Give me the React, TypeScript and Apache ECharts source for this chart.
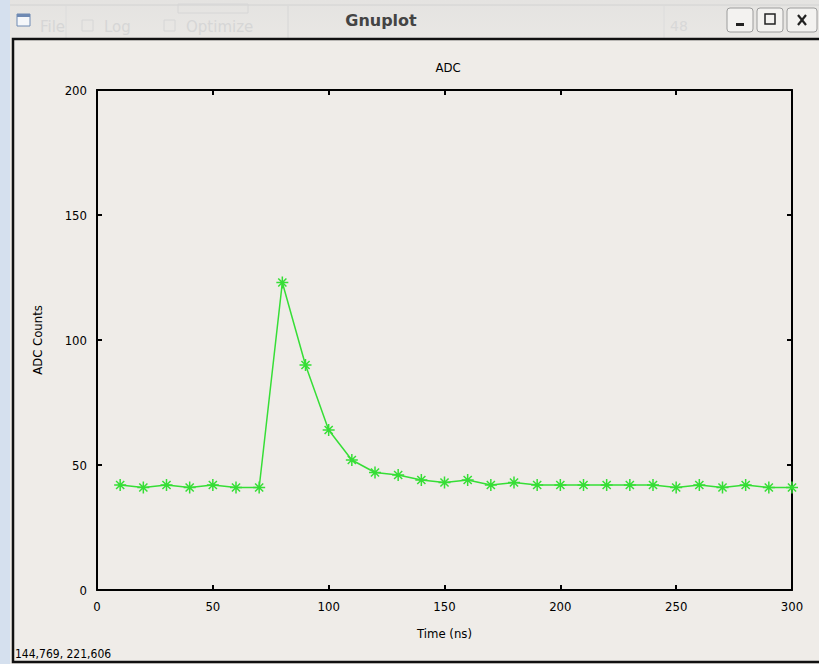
import React, { useEffect, useRef } from "react";
import * as echarts from "echarts";

// Sample times (ns) and ADC counts of the recorded pulse
const timeNs = [10, 20, 30, 40, 50, 60, 70, 80, 90, 100, 110, 120, 130, 140, 150, 160, 170, 180, 190, 200, 210, 220, 230, 240, 250, 260, 270, 280, 290, 300];
const adcCounts = [42, 41, 42, 41, 42, 41, 41, 123, 90, 64, 52, 47, 46, 44, 43, 44, 42, 43, 42, 42, 42, 42, 42, 42, 41, 42, 41, 42, 41, 41];

const chartTitle = "ADC";
const xName = "Time (ns)";
const yName = "ADC Counts";
const windowTitle = "Gnuplot";
const cursorReadout = "144,769, 221,606";

const plotFont = "'DejaVu Sans Condensed', 'DejaVu Sans', sans-serif";
const GREEN = "#36de36";
const STAR = "path://M5,0L5,10M0,5L10,5M1.6,1.6L8.4,8.4M8.4,1.6L1.6,8.4";

export default function App() {
  const ref = useRef<HTMLDivElement>(null);

  useEffect(() => {
    if (!ref.current) return;
    const chart = echarts.init(ref.current, null, { renderer: "svg" });

    const axisLine = () => ({ show: true, onZero: false, lineStyle: { color: "#000", width: 2 } });
    const ticks = () => ({ show: true, inside: true, length: 5, lineStyle: { color: "#000", width: 2 } });
    const label = () => ({ color: "#000", fontFamily: plotFont, fontSize: 13 });

    chart.setOption({
      animation: false,
      backgroundColor: "#efece8",
      title: {
        text: chartTitle,
        left: 443,
        top: 56,
        textAlign: "center",
        textStyle: { color: "#000", fontFamily: plotFont, fontSize: 13, fontWeight: "normal" },
      },
      grid: { left: 97, right: 27, top: 90, bottom: 74 },
      xAxis: [
        {
          type: "value",
          min: 0,
          max: 300,
          interval: 50,
          name: xName,
          nameLocation: "middle",
          nameGap: 37,
          nameTextStyle: label(),
          axisLine: axisLine(),
          axisTick: ticks(),
          axisLabel: { ...label(), margin: 10 },
          splitLine: { show: false },
        },
        {
          type: "value",
          position: "top",
          min: 0,
          max: 300,
          interval: 50,
          axisLine: axisLine(),
          axisTick: ticks(),
          axisLabel: { show: false },
          splitLine: { show: false },
        },
      ],
      yAxis: [
        {
          type: "value",
          min: 0,
          max: 200,
          interval: 50,
          name: yName,
          nameLocation: "middle",
          nameGap: 53,
          nameRotate: 90,
          nameTextStyle: label(),
          axisLine: axisLine(),
          axisTick: ticks(),
          axisLabel: { ...label(), margin: 10 },
          splitLine: { show: false },
        },
        {
          type: "value",
          position: "right",
          min: 0,
          max: 200,
          interval: 50,
          axisLine: axisLine(),
          axisTick: ticks(),
          axisLabel: { show: false },
          splitLine: { show: false },
        },
      ],
      series: [
        {
          type: "line",
          data: timeNs.map((t, i) => [t, adcCounts[i]]),
          symbol: STAR,
          symbolSize: 12,
          showAllSymbol: true,
          lineStyle: { color: GREEN, width: 1.5 },
          itemStyle: { color: "transparent", borderColor: GREEN, borderWidth: 1.5 },
          emphasis: { disabled: true },
          z: 5,
        },
      ],
      graphic: [
        // desktop strip on the left
        { type: "rect", z: -5, shape: { x: 0, y: 0, width: 10, height: 664 }, style: { fill: "#d5e0ee" } },
        // title bar
        {
          type: "rect",
          z: -5,
          shape: { x: 10, y: 0, width: 809, height: 38 },
          style: {
            fill: new echarts.graphic.LinearGradient(0, 0, 0, 1, [
              { offset: 0, color: "#e4e3e1" },
              { offset: 1, color: "#e9e7e4" },
            ]),
          },
        },
        { type: "line", z: -4, shape: { x1: 10, y1: 5, x2: 819, y2: 5 }, style: { stroke: "#d2d2d2", lineWidth: 1 } },
        // faint controls of the window behind
        { type: "text", z: -4, x: 40, y: 27, style: { text: "File", fill: "#d6d6d6", fontSize: 15, fontFamily: "DejaVu Sans", textVerticalAlign: "middle" } },
        { type: "rect", z: -4, shape: { x: 82, y: 20, width: 11, height: 11 }, style: { fill: "none", stroke: "#d6d6d6", lineWidth: 1 } },
        { type: "text", z: -4, x: 104, y: 27, style: { text: "Log", fill: "#d6d6d6", fontSize: 15, fontFamily: "DejaVu Sans", textVerticalAlign: "middle" } },
        { type: "rect", z: -4, shape: { x: 164, y: 20, width: 11, height: 11 }, style: { fill: "none", stroke: "#d6d6d6", lineWidth: 1 } },
        { type: "text", z: -4, x: 186, y: 27, style: { text: "Optimize", fill: "#d6d6d6", fontSize: 15, fontFamily: "DejaVu Sans", textVerticalAlign: "middle" } },
        { type: "rect", z: -4, shape: { x: 178, y: 4, width: 70, height: 9 }, style: { fill: "none", stroke: "#d6d6d6", lineWidth: 1 } },
        { type: "line", z: -4, shape: { x1: 288, y1: 6, x2: 288, y2: 38 }, style: { stroke: "#d6d6d6", lineWidth: 1 } },
        { type: "line", z: -4, shape: { x1: 66, y1: 6, x2: 66, y2: 38 }, style: { stroke: "#dcdcdc", lineWidth: 1 } },
        { type: "line", z: -4, shape: { x1: 664, y1: 6, x2: 664, y2: 38 }, style: { stroke: "#dcdcdc", lineWidth: 1 } },
        { type: "text", z: -4, x: 670, y: 26, style: { text: "48", fill: "#d8d8d8", fontSize: 14, fontFamily: "DejaVu Sans", textVerticalAlign: "middle" } },
        // window icon
        { type: "rect", z: -3, shape: { x: 17, y: 14, width: 13, height: 12 }, style: { fill: "#f5f7fa", stroke: "#6f8ab3", lineWidth: 1 } },
        { type: "rect", z: -3, shape: { x: 17, y: 14, width: 13, height: 3 }, style: { fill: "#6f8ab3" } },
        // window title
        {
          type: "text",
          z: -3,
          x: 381,
          y: 20,
          style: { text: windowTitle, fill: "#444", fontSize: 16, fontWeight: "bold", fontFamily: "DejaVu Sans", textAlign: "center", textVerticalAlign: "middle" },
        },
        // window buttons
        { type: "rect", z: -3, shape: { x: 727, y: 8, width: 26, height: 24, r: 3 }, style: { fill: "#f3f2f0", stroke: "#9c9c9c", lineWidth: 1 } },
        { type: "rect", z: -3, shape: { x: 736, y: 23, width: 8, height: 3 }, style: { fill: "#222" } },
        { type: "rect", z: -3, shape: { x: 757, y: 8, width: 26, height: 24, r: 3 }, style: { fill: "#f3f2f0", stroke: "#9c9c9c", lineWidth: 1 } },
        { type: "rect", z: -3, shape: { x: 765, y: 14, width: 10, height: 10 }, style: { fill: "none", stroke: "#222", lineWidth: 1.5 } },
        { type: "rect", z: -3, shape: { x: 787, y: 8, width: 30, height: 24, r: 3 }, style: { fill: "#f3f2f0", stroke: "#9c9c9c", lineWidth: 1 } },
        { type: "line", z: -3, shape: { x1: 798, y1: 15, x2: 806, y2: 25 }, style: { stroke: "#222", lineWidth: 2.2 } },
        { type: "line", z: -3, shape: { x1: 806, y1: 15, x2: 798, y2: 25 }, style: { stroke: "#222", lineWidth: 2.2 } },
        // canvas frame
        { type: "rect", z: -2, shape: { x: 13, y: 39, width: 820, height: 623 }, style: { fill: "none", stroke: "#111", lineWidth: 2.5 } },
        // mouse position readout
        {
          type: "text",
          z: 1,
          x: 15,
          y: 654,
          style: { text: cursorReadout, fill: "#000", fontSize: 12, fontFamily: plotFont, textVerticalAlign: "middle" },
        },
      ],
    });

    return () => chart.dispose();
  }, []);

  return <div ref={ref} style={{ position: "absolute", left: 0, top: 0, width: 819, height: 664 }} />;
}
